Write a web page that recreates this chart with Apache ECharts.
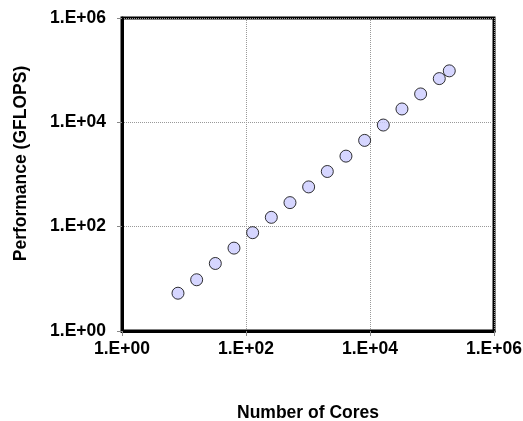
<!DOCTYPE html>
<html>
<head>
<meta charset="utf-8">
<script src="https://cdn.jsdelivr.net/npm/echarts@6/dist/echarts.min.js"></script>
<style>
  html, body { margin: 0; padding: 0; background: #fff; }
  #chart { width: 523px; height: 421px; }
</style>
</head>
<body>
<div id="chart"></div>
<script>
// Number of cores used in each run
const cores = [8, 16, 32, 64, 128, 256, 512, 1024, 2048, 4096, 8192, 16384, 32768, 65536, 131072, 190000];
// Sustained performance in GFLOPS for each run
const gflops = [5.3, 9.6, 19.7, 38.8, 76.7, 151, 289, 578, 1142, 2249, 4506, 8874, 18030, 35000, 68900, 97000];

const points = cores.map((c, i) => [c, gflops[i]]);

function sciLabel(v) {
  const e = Math.round(Math.log10(v));
  return '1.E+' + (e < 10 ? '0' + e : e);
}

const font = 'Liberation Sans, Arial, sans-serif';
const fontSize = 17.5;

const axisCommon = {
  type: 'log',
  logBase: 10,
  min: 1,
  max: 1e6,
  interval: 2,
  axisLine: { show: true, lineStyle: { color: '#000', width: 3 } },
  axisTick: { show: true, length: 5, lineStyle: { color: '#888', width: 1 } },
  splitLine: { show: true, lineStyle: { color: '#999', width: 1, type: [1, 1] } },
  minorTick: { show: false },
  axisLabel: {
    color: '#000',
    fontFamily: font,
    fontWeight: 'bold',
    fontSize: fontSize,
    formatter: sciLabel
  }
};

const chart = echarts.init(document.getElementById('chart'));
chart.setOption({
  animation: false,
  backgroundColor: '#fff',
  grid: {
    left: 122, right: 29, top: 18, bottom: 90,
    containLabel: false,
    outerBoundsMode: 'none',
    show: true, borderColor: '#000', borderWidth: 3, backgroundColor: 'transparent'
  },
  xAxis: Object.assign({}, axisCommon, {
    name: 'Number of Cores',
    nameLocation: 'middle',
    nameGap: 73,
    nameTextStyle: { color: '#000', fontFamily: font, fontWeight: 'bold', fontSize: fontSize },
    axisLabel: Object.assign({}, axisCommon.axisLabel, { margin: 9 })
  }),
  yAxis: Object.assign({}, axisCommon, {
    name: 'Performance (GFLOPS)',
    nameLocation: 'middle',
    nameGap: 92,
    nameTextStyle: { color: '#000', fontFamily: font, fontWeight: 'bold', fontSize: fontSize, padding: [0, 0, 0, 22] },
    axisLabel: Object.assign({}, axisCommon.axisLabel, { margin: 16 })
  }),
  series: [{
    type: 'scatter',
    data: points,
    symbol: 'circle',
    symbolSize: 12,
    itemStyle: { color: '#ccccff', borderColor: '#000', borderWidth: 1 }
  }]
});
</script>
</body>
</html>
